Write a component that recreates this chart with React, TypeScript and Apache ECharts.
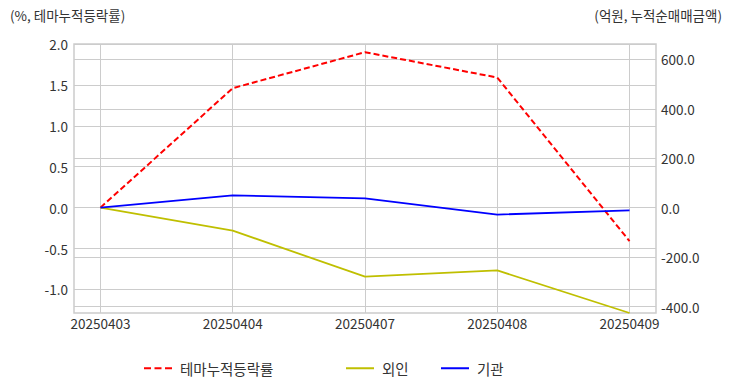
import React, { useEffect, useRef } from "react";
import * as echarts from "echarts";

const dates = ["20250403", "20250404", "20250407", "20250408", "20250409"];
const themeReturn = [0, 1.46, 1.9, 1.59, -0.41];
const foreign = [0, -93, -279, -254, -426];
const institution = [0, 50, 38, -28, -11];
const leftTicks = [-1.0, -0.5, 0, 0.5, 1.0, 1.5, 2.0];
const rightTicks = [-400, -200, 0, 200, 400, 600];

const FONT = "'Noto Sans CJK KR', 'Noto Sans', sans-serif";
const TXT = "#333333";
const DASH_ICON = "path://M0,0h7v2h-7z M10.5,0h7v2h-7z M21,0h7v2h-7z";

export default function App() {
  const ref = useRef<HTMLDivElement>(null);
  useEffect(() => {
    if (!ref.current) return;
    const chart = echarts.init(ref.current, undefined, { renderer: "svg" });
    const idx = dates.map((_, i) => i);
    const legendText = { color: TXT, fontSize: 14.5, fontFamily: FONT, padding: [0, 0, 0, 3] };
    const option: any = {
      animation: false,
      backgroundColor: "#ffffff",
      textStyle: { fontFamily: FONT },
      grid: {
        left: 74,
        right: 76,
        top: 44,
        bottom: 79,
        show: true,
        borderColor: "#cccccc",
        borderWidth: 1.5,
      },
      graphic: [
        {
          type: "text",
          left: 10,
          top: 8,
          style: { text: "(%, 테마누적등락률)", fill: TXT, font: `13.5px ${FONT}` },
        },
        {
          type: "text",
          right: 10,
          top: 8,
          style: { text: "(억원, 누적순매매금액)", fill: TXT, font: `13.5px ${FONT}` },
        },
      ],
      legend: [
        {
          left: 139,
          top: 356,
          itemWidth: 28,
          itemHeight: 2,
          data: [{ name: "테마누적등락률", icon: DASH_ICON }],
          textStyle: legendText,
        },
        {
          left: 341,
          top: 356,
          itemWidth: 28,
          itemHeight: 2,
          data: [{ name: "외인", icon: "rect" }],
          textStyle: legendText,
        },
        {
          left: 436,
          top: 356,
          itemWidth: 28,
          itemHeight: 2,
          data: [{ name: "기관", icon: "rect" }],
          textStyle: legendText,
        },
      ],
      xAxis: {
        type: "value",
        min: -0.2,
        max: 4.2,
        axisLine: { show: false },
        axisTick: { show: false, customValues: idx },
        axisLabel: {
          customValues: idx,
          color: TXT,
          fontSize: 13.5,
          fontFamily: FONT,
          margin: 3,
          formatter: (v: number) => dates[Math.round(v)] ?? "",
        },
        splitLine: { show: true, lineStyle: { color: "#cccccc", width: 1 } },
      },
      yAxis: [
        {
          type: "value",
          min: -1.288,
          max: 2.0,
          axisLine: { show: false },
          axisTick: { show: false, customValues: leftTicks },
          axisLabel: {
            customValues: leftTicks,
            color: TXT,
            fontSize: 13.5,
            fontFamily: FONT,
            margin: 6,
            formatter: (v: number) => v.toFixed(1),
          },
          splitLine: { show: true, lineStyle: { color: "#cccccc", width: 1 } },
        },
        {
          type: "value",
          min: -426,
          max: 662,
          position: "right",
          axisLine: { show: false },
          axisTick: { show: false, customValues: rightTicks },
          axisLabel: {
            customValues: rightTicks,
            color: TXT,
            fontSize: 13.5,
            fontFamily: FONT,
            margin: 5,
            formatter: (v: number) => v.toFixed(1),
          },
          splitLine: { show: true, lineStyle: { color: "#cccccc", width: 1 } },
        },
      ],
      series: [
        {
          name: "테마누적등락률",
          type: "line",
          yAxisIndex: 0,
          symbol: "none",
          data: themeReturn.map((v, i) => [i, v]),
          itemStyle: { color: "#ff0000" },
          lineStyle: { color: "#ff0000", width: 2, type: [6, 3] },
        },
        {
          name: "외인",
          type: "line",
          yAxisIndex: 1,
          symbol: "none",
          data: foreign.map((v, i) => [i, v]),
          itemStyle: { color: "#bfbf00" },
          lineStyle: { color: "#bfbf00", width: 1.8 },
        },
        {
          name: "기관",
          type: "line",
          yAxisIndex: 1,
          symbol: "none",
          data: institution.map((v, i) => [i, v]),
          itemStyle: { color: "#0000ff" },
          lineStyle: { color: "#0000ff", width: 1.8 },
        },
      ],
    };
    chart.setOption(option);
    return () => chart.dispose();
  }, []);
  return <div ref={ref} style={{ width: 732, height: 392, position: "absolute", left: 0, top: 0 }} />;
}
